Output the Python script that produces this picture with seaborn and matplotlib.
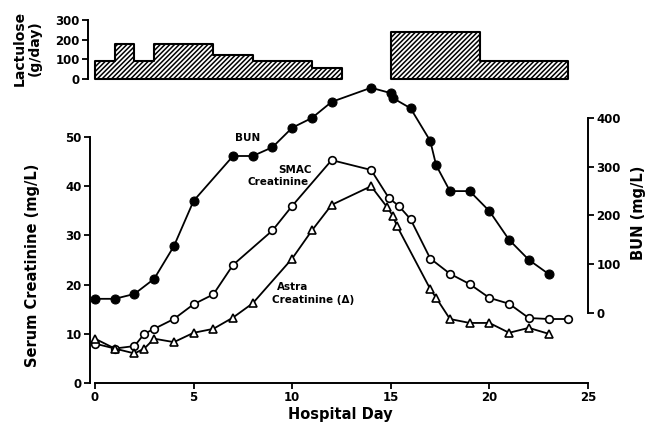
import numpy as np
import pandas as pd
import matplotlib
matplotlib.use("Agg")
import matplotlib.pyplot as plt
import seaborn as sns

# values
bun_days = [0, 1, 2, 3, 4, 5, 7, 8, 9, 10, 11, 12, 14, 15, 15.1, 16, 17, 17.3, 18, 19, 20, 21, 22, 23]
bun = [29, 29, 39, 70, 137, 230, 322, 322, 340, 380, 400, 433, 462, 451, 441, 420, 353, 303, 250, 250, 209, 150, 109, 80]

smac_days = [0, 1, 2, 2.5, 3, 4, 5, 6, 7, 9, 10, 12, 14, 14.9, 15.4, 16, 17, 18, 19, 20, 21, 22, 23, 24]
smac = [8, 7, 7.5, 10, 11, 13, 16, 18, 24, 31, 36, 45.3, 43.3, 37.6, 36, 33.3, 25.3, 22.2, 20.1, 17.3, 16.1, 13.2, 13, 13]

astra_days = [0, 1, 2, 2.5, 3, 4, 5, 6, 7, 8, 10, 11, 12, 14, 14.8, 15.1, 15.3, 17, 17.3, 18, 19, 20, 21, 22, 23]
astra = [9, 7, 6, 7, 9, 8.3, 10.2, 11, 13.3, 16.2, 25.3, 31, 36.2, 40, 35.8, 34, 32, 19.1, 17.3, 13, 12.2, 12.2, 10.2, 11.2, 10]

# lactulose dose, two courses (step edges in days)
lact1_edges = [0, 1, 2, 3, 6, 8, 11, 12.5]
lact1_dose = [90, 180, 90, 180, 120, 90, 55]
lact2_edges = [15, 19.5, 24]
lact2_dose = [240, 90]

sns.set_theme(style="white")
plt.rcParams["font.family"] = ["DejaVu Sans"]
plt.rcParams["font.weight"] = "bold"
plt.rcParams["hatch.linewidth"] = 1.1
plt.rcParams["text.color"] = "black"
plt.rcParams["axes.labelcolor"] = "black"
plt.rcParams["xtick.color"] = "black"
plt.rcParams["ytick.color"] = "black"

W, H = 657, 425
fig = plt.figure(figsize=(W / 100, H / 100), dpi=100)

def add_px_axes(left, top, right, bottom):
    return fig.add_axes([left / W, 1 - bottom / H, (right - left) / W, (bottom - top) / H])

# main creatinine axes
ax = add_px_axes(75.3, 77.96, 607.7, 392.8)
ax.set_xlim(-1, 26)
ax.set_ylim(-2, 62)
ax.patch.set_visible(False)

line_kw = dict(color="black", lw=1.3, estimator=None, sort=False)
sns.lineplot(x=smac_days, y=smac, ax=ax, marker="o", markersize=5.5,
             markerfacecolor="white", markeredgecolor="black", markeredgewidth=1.2, **line_kw)
sns.lineplot(x=astra_days, y=astra, ax=ax, marker="^", markersize=5.5,
             markerfacecolor="white", markeredgecolor="black", markeredgewidth=1.2, **line_kw)

# BUN on its own scale
ax2 = ax.twinx()
sns.lineplot(x=bun_days, y=bun, ax=ax2, marker="o", markersize=6.5,
             markerfacecolor="black", markeredgecolor="black", **line_kw)
l0 = 14.23
ratio = 0.09909
ax2.set_ylim((-2 - l0) / ratio, (62 - l0) / ratio)
ax.set_xlim(-1, 26)

for a in (ax, ax2):
    a.set_xlabel("")
    a.set_ylabel("")
    for s in a.spines.values():
        s.set_visible(False)

ax.spines["left"].set_visible(True)
ax.spines["left"].set_position(("data", -0.25))
ax.spines["left"].set_bounds(0, 50)
ax.spines["bottom"].set_visible(True)
ax.spines["bottom"].set_position(("data", 0))
ax.spines["bottom"].set_bounds(0, 25)
ax2.spines["right"].set_visible(True)
ax2.spines["right"].set_position(("data", 25))
ax2.spines["right"].set_bounds(0, 400)
for s in [ax.spines["left"], ax.spines["bottom"], ax2.spines["right"]]:
    s.set_color("black")
    s.set_linewidth(1.4)

ax.set_xticks([0, 5, 10, 15, 20, 25])
ax.set_yticks([0, 10, 20, 30, 40, 50])
ax2.set_yticks([0, 100, 200, 300, 400])
ax.tick_params(axis="both", direction="out", length=4, width=1.3, color="black",
               labelsize=8.5, pad=2, left=True, bottom=True)
ax2.tick_params(axis="y", direction="out", length=4, width=1.3, color="black",
                labelsize=8.5, pad=2, right=True)
for lab in ax.get_xticklabels() + ax.get_yticklabels() + ax2.get_yticklabels():
    lab.set_fontweight("bold")

# annotations
ax.text(7.76, 49.8, "BUN", ha="center", va="center", fontsize=7.5, fontweight="bold")
ax.text(10.14, 43.3, "SMAC", ha="center", va="center", fontsize=7.5, fontweight="bold")
ax.text(9.28, 40.9, "Creatinine", ha="center", va="center", fontsize=7.5, fontweight="bold")
ax.text(10.04, 19.5, "Astra", ha="center", va="center", fontsize=7.5, fontweight="bold")
ax.text(11.05, 16.9, "Creatinine (\u0394)", ha="center", va="center", fontsize=7.5, fontweight="bold")

fig.text(340 / W, 1 - 414 / H, "Hospital Day", ha="center", va="center", fontsize=10.5, fontweight="bold")
fig.text(33 / W, 1 - 265 / H, "Serum Creatinine (mg/L)", rotation=90, ha="center", va="center",
         fontsize=10.5, fontweight="bold")
fig.text(638 / W, 1 - 213 / H, "BUN (mg/L)", rotation=90, ha="center", va="center",
         fontsize=10.5, fontweight="bold")

# lactulose panel
axt = add_px_axes(75.3, 16.0, 607.7, 82.9)
axt.set_xlim(-1, 26)
axt.set_ylim(-20, 320)
axt.patch.set_visible(False)
for edges, dose in [(lact1_edges, lact1_dose), (lact2_edges, lact2_dose)]:
    axt.fill_between(edges, dose + [dose[-1]], 0, step="post", facecolor="white",
                     edgecolor="black", hatch="///////", lw=1.5)
for s in axt.spines.values():
    s.set_visible(False)
axt.spines["left"].set_visible(True)
axt.spines["left"].set_position(("data", -0.35))
axt.spines["left"].set_bounds(0, 300)
axt.spines["left"].set_color("black")
axt.spines["left"].set_linewidth(1.4)
axt.set_xticks([])
axt.set_yticks([0, 100, 200, 300])
axt.tick_params(axis="y", direction="out", length=4, width=1.3, color="black",
                labelsize=8.5, pad=2, left=True)
for lab in axt.get_yticklabels():
    lab.set_fontweight("bold")
fig.text(27 / W, 1 - 48 / H, "Lactulose\n(g/day)", rotation=90, ha="center", va="center",
         multialignment="center", fontsize=10, fontweight="bold", linespacing=1.1)

fig.savefig("out.png", dpi=100)
